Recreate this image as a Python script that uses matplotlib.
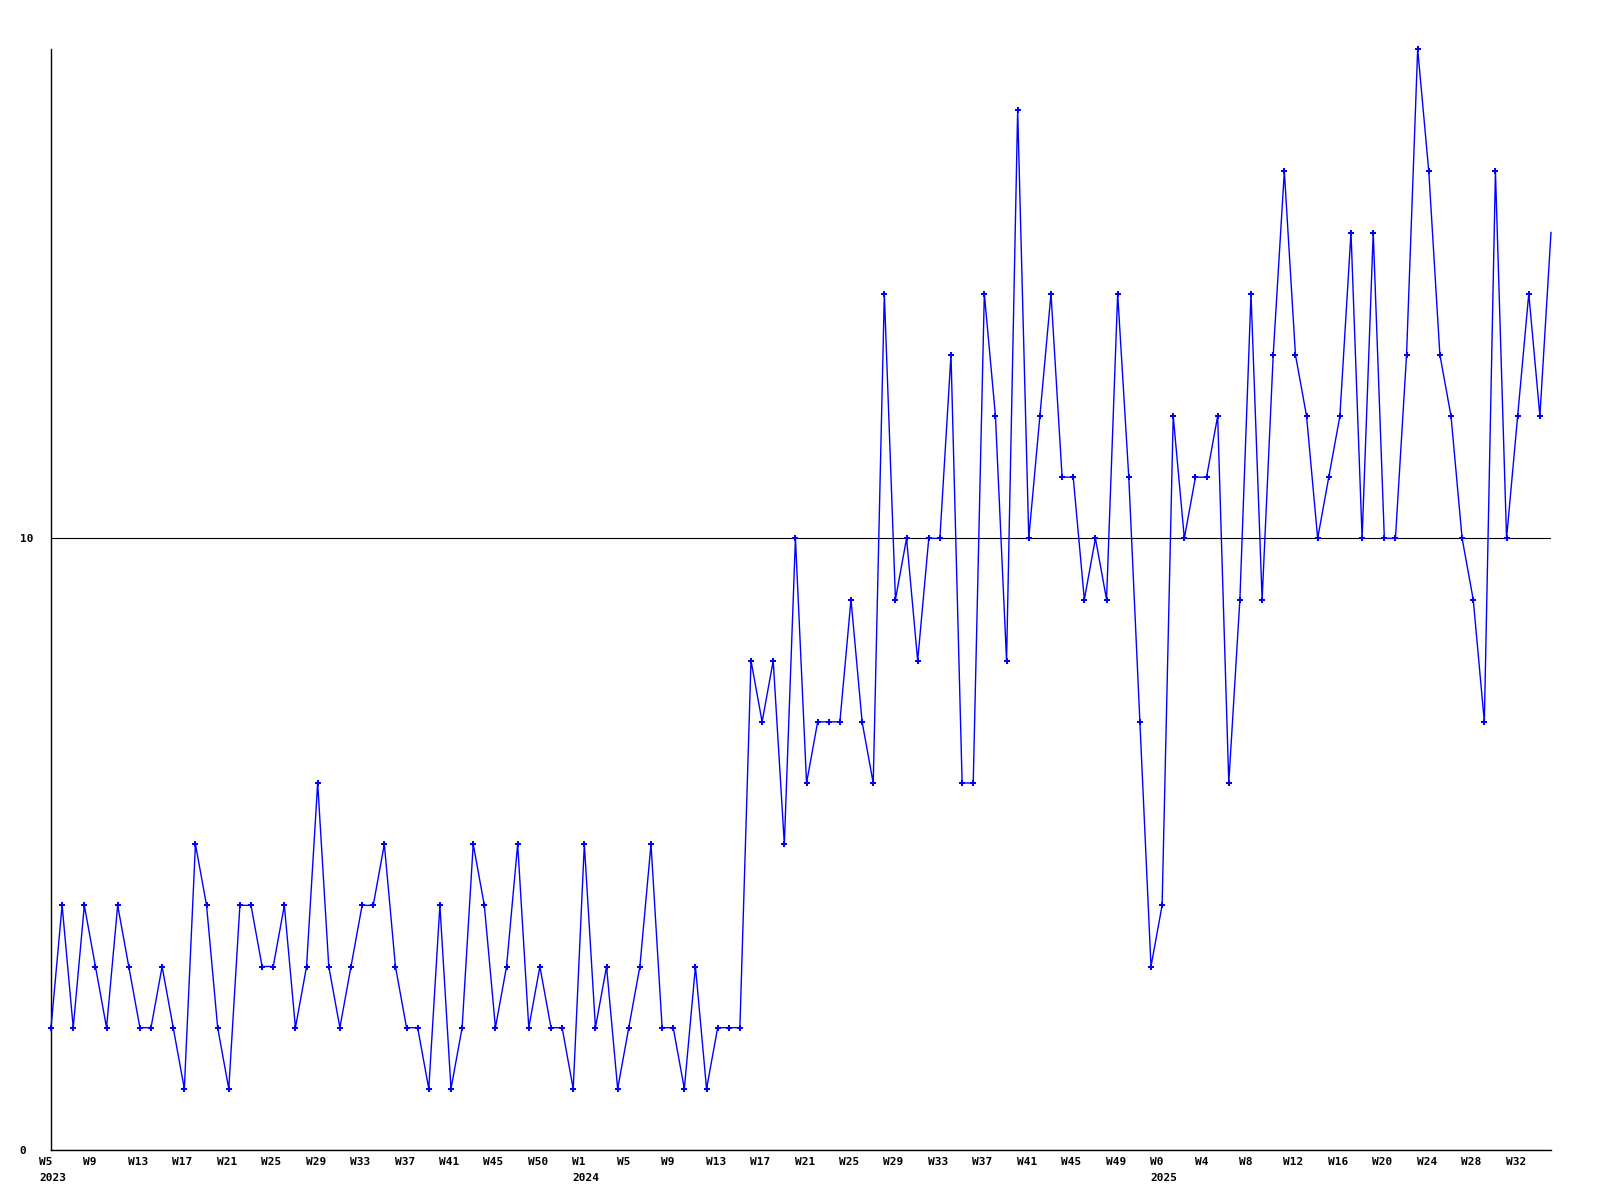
import matplotlib
matplotlib.use("Agg")
import matplotlib.pyplot as plt
import matplotlib.transforms as mtransforms
import numpy as np

# Weekly values (W5 2023 ... W35 2025)
values = [
    2, 4, 2, 4, 3, 2, 4, 3, 2, 2, 3, 2, 1, 5, 4, 2, 1, 4, 4, 3,
    3, 4, 2, 3, 6, 3, 2, 3, 4, 4, 5, 3, 2, 2, 1, 4, 1, 2, 5, 4,
    2, 3, 5, 2, 3, 2, 2, 1, 5, 2, 3, 1, 2, 3, 5, 2, 2, 1, 3, 1,
    2, 2, 2, 8, 7, 8, 5, 10, 6, 7, 7, 7, 9, 7, 6, 14, 9, 10, 8, 10,
    10, 13, 6, 6, 14, 12, 8, 17, 10, 12, 14, 11, 11, 9, 10, 9, 14, 11, 7, 3,
    4, 12, 10, 11, 11, 12, 6, 9, 14, 9, 13, 16, 13, 12, 10, 11, 12, 15, 10, 15,
    10, 10, 13, 18, 16, 13, 12, 10, 9, 7, 16, 10, 12, 14, 12, 15,
]

week_labels = [
    "W5", "W9", "W13", "W17", "W21", "W25", "W29", "W33", "W37", "W41", "W45", "W50",
    "W1", "W5", "W9", "W13", "W17", "W21", "W25", "W29", "W33", "W37", "W41", "W45", "W49",
    "W0", "W4", "W8", "W12", "W16", "W20", "W24", "W28", "W32",
]
year_labels = {0: "2023", 12: "2024", 25: "2025"}
label_step = 4
y_ticks = [0, 10]
y_max = 18

x = np.arange(len(values))

fig = plt.figure(figsize=(16, 12), dpi=100)
ax = fig.add_axes([51 / 1600, 50 / 1200, 1500 / 1600, 1101 / 1200])

ax.plot(x, values, color="#0000ff", linewidth=1.0, marker="P", markersize=4,
        markeredgewidth=0, markevery=slice(0, len(values) - 1), zorder=3, clip_on=False)

ax.set_xlim(0, len(values) - 1)
ax.set_ylim(0, y_max)

for s in ["top", "right"]:
    ax.spines[s].set_visible(False)
for s in ["left", "bottom"]:
    ax.spines[s].set_color("black")
    ax.spines[s].set_linewidth(1.0)

font = dict(family="DejaVu Sans Mono", weight="bold", size=8)

ax.set_yticks(y_ticks)
ax.set_yticklabels([str(v) for v in y_ticks], fontdict=font, ha="left")
ax.tick_params(axis="y", length=0, pad=22.5)
ax.yaxis.grid(True, color="black", linewidth=0.8)
ax.set_axisbelow(True)

tick_pos = np.arange(0, len(week_labels) * label_step, label_step)
labels = []
for k, w in enumerate(week_labels):
    if k in year_labels:
        labels.append(w + "\n" + year_labels[k])
    else:
        labels.append(w)
ax.set_xticks(tick_pos)
ax.set_xticklabels(labels, fontdict=font, ha="left", va="top", linespacing=1.75)
ax.tick_params(axis="x", length=0, pad=5)
offset = mtransforms.ScaledTranslation(-12 / 100, 0, fig.dpi_scale_trans)
for lab in ax.get_xticklabels():
    lab.set_transform(lab.get_transform() + offset)

fig.savefig("out.png", dpi=100, facecolor="white")
